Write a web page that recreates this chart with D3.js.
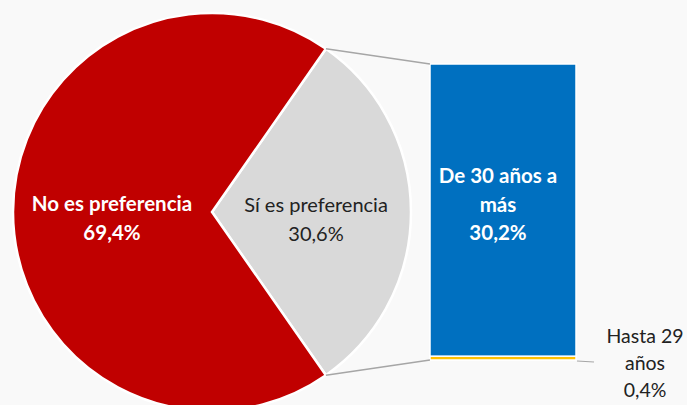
<!DOCTYPE html>
<html>
<head>
<meta charset="utf-8">
<script src="https://cdn.jsdelivr.net/npm/d3@7"></script>
<style>
  body { margin: 0; background: #f9f9f9; }
  svg { display: block; font-family: Lato, "Open Sans", sans-serif; }
</style>
</head>
<body>
<svg id="chart" width="687" height="405"></svg>
<script>
// pie data
var pieLabels = ["Sí es preferencia", "No es preferencia"];
var pieValues = [30.6, 69.4];
var pieColors = ["#d9d9d9", "#c00000"];

// bar data (breakdown of "Sí es preferencia")
var barLabels = [["Hasta 29", "años"], ["De 30 años a", "más"]];
var barValues = [0.4, 30.2];
var barColors = ["#ffc000", "#0070c0"];

var svg = d3.select("#chart");
var cx = 212, cy = 212, r = 199;

// grey slice centred on the right side
var half = Math.PI * pieValues[0] / 100;
var start = Math.PI / 2 - half;
var pie = d3.pie().sort(null).startAngle(start).endAngle(start + 2 * Math.PI);
var arcs = pie(pieValues);
var arc = d3.arc().innerRadius(0).outerRadius(r);

var g = svg.append("g").attr("transform", "translate(" + cx + "," + cy + ")");
g.selectAll("path").data(arcs).enter().append("path")
  .attr("d", arc)
  .attr("fill", function(d, i) { return pieColors[i]; })
  .attr("stroke", "#fff").attr("stroke-width", 2.5);

function pct(v) { return d3.format(".1f")(v).replace(".", ",") + "%"; }

// pie labels
var pieLabelPos = [[316, 212], [112, 211]];
arcs.forEach(function(d, i) {
  var t = svg.append("text").attr("text-anchor", "middle")
    .attr("font-size", i == 1 ? 20.5 : 20)
    .attr("font-weight", i == 1 ? "bold" : "normal")
    .attr("fill", i == 1 ? "#fff" : "#222");
  t.append("tspan").attr("x", pieLabelPos[i][0]).attr("y", pieLabelPos[i][1]).text(pieLabels[i]);
  t.append("tspan").attr("x", pieLabelPos[i][0]).attr("y", pieLabelPos[i][1] + 29).text(pct(pieValues[i]));
});

// bar
var barX = 430, barW = 146;
var y = d3.scaleLinear().domain([0, d3.sum(barValues)]).range([360, 64]);
var acc = 0;
var stacks = barValues.map(function(v) { var s = { y0: acc, y1: acc + v }; acc += v; return s; });

svg.selectAll("rect.seg").data(stacks).enter().append("rect")
  .attr("class", "seg")
  .attr("x", barX).attr("width", barW)
  .attr("y", function(d) { return y(d.y1); })
  .attr("height", function(d) { return y(d.y0) - y(d.y1); })
  .attr("fill", function(d, i) { return barColors[i]; })
  .attr("stroke", "#fff").attr("stroke-width", 1.5);

// connector lines from the grey slice to the bar
var pTop = [cx + r * Math.sin(arcs[0].startAngle), cy - r * Math.cos(arcs[0].startAngle)];
var pBot = [cx + r * Math.sin(arcs[0].endAngle), cy - r * Math.cos(arcs[0].endAngle)];
svg.append("line").attr("x1", pTop[0]).attr("y1", pTop[1]).attr("x2", barX).attr("y2", y(acc))
  .attr("stroke", "#a6a6a6").attr("stroke-width", 1.5);
svg.append("line").attr("x1", pBot[0]).attr("y1", pBot[1]).attr("x2", barX).attr("y2", y(0))
  .attr("stroke", "#a6a6a6").attr("stroke-width", 1.5);

// leader for small segment
svg.append("line").attr("x1", barX + barW + 1).attr("y1", y(0) + 1).attr("x2", 594).attr("y2", y(0) + 2)
  .attr("stroke", "#a6a6a6").attr("stroke-width", 1.2);

// bar labels
var small = svg.append("text").attr("text-anchor", "middle").attr("font-size", 19.5).attr("fill", "#222");
small.append("tspan").attr("x", 645).attr("y", 343).text(barLabels[0][0]);
small.append("tspan").attr("x", 645).attr("y", 370).text(barLabels[0][1]);
small.append("tspan").attr("x", 645).attr("y", 397).text(pct(barValues[0]));

var big = svg.append("text").attr("text-anchor", "middle").attr("font-size", 20.5)
  .attr("font-weight", "bold").attr("fill", "#fff");
big.append("tspan").attr("x", 498).attr("y", 183).text(barLabels[1][0]);
big.append("tspan").attr("x", 498).attr("y", 212).text(barLabels[1][1]);
big.append("tspan").attr("x", 498).attr("y", 240).text(pct(barValues[1]));
</script>
</body>
</html>
